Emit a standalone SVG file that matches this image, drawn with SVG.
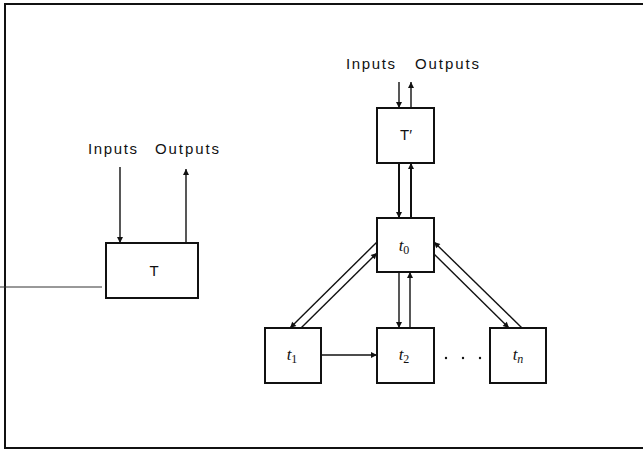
<svg xmlns="http://www.w3.org/2000/svg" width="643" height="451" viewBox="0 0 643 451">
  <style>
    .frame { fill: none; stroke: #111; stroke-width: 2; }
    .box { fill: #fff; stroke: #111; stroke-width: 2; }
    .link { fill: none; stroke: #111; stroke-width: 1.4; }
    .thick { stroke-width: 2; }
    .lbl { font-family: "Liberation Sans", Arial, sans-serif; font-size: 15px; fill: #111; }
    .name { font-family: "Liberation Sans", Arial, sans-serif; font-size: 15px; fill: #111; text-anchor: middle; }
    .sub { font-family: "Liberation Serif", "Times New Roman", serif; font-size: 17px; font-style: italic; fill: #111; text-anchor: middle; }
  </style>
  <defs>
    <marker id="arrow" viewBox="0 0 10 10" refX="10" refY="5" markerWidth="9" markerHeight="6" markerUnits="userSpaceOnUse" orient="auto">
      <path d="M0,0 L10,5 L0,10 Z" fill="#111"/>
    </marker>
  </defs>
  <rect width="643" height="451" fill="#fff"/>

  <!-- outer frame (open on the right) -->
  <path class="frame" d="M643,4 H5 V448 H643"/>
  <line x1="0" y1="287" x2="102" y2="287" stroke="#333" stroke-width="1"/>

  <!-- free-standing labels -->
  <g id="labels">
    <text class="lbl" x="88" y="154" textLength="49" lengthAdjust="spacing">Inputs</text>
    <text class="lbl" x="155" y="154" textLength="64" lengthAdjust="spacing">Outputs</text>
    <text class="lbl" x="346" y="69" textLength="49" lengthAdjust="spacing">Inputs</text>
    <text class="lbl" x="415" y="69" textLength="64" lengthAdjust="spacing">Outputs</text>
  </g>

  <!-- connectors -->
  <g id="connectors">
    <!-- T -->
    <line class="link" x1="120" y1="167" x2="120" y2="243" marker-end="url(#arrow)"/>
    <line class="link" x1="186" y1="243" x2="186" y2="169" marker-end="url(#arrow)"/>
    <!-- T' external -->
    <line class="link" x1="399" y1="82" x2="399" y2="108" marker-end="url(#arrow)"/>
    <line class="link" x1="411" y1="108" x2="411" y2="82" marker-end="url(#arrow)"/>
    <!-- T' <-> t0 -->
    <line class="link thick" x1="399" y1="163" x2="399" y2="218" marker-end="url(#arrow)"/>
    <line class="link thick" x1="411" y1="218" x2="411" y2="163" marker-end="url(#arrow)"/>
    <!-- t0 <-> t1 -->
    <line class="link" x1="377" y1="242" x2="290" y2="328" marker-end="url(#arrow)"/>
    <line class="link" x1="301" y1="328" x2="377" y2="253" marker-end="url(#arrow)"/>
    <!-- t0 <-> t2 -->
    <line class="link" x1="399" y1="272" x2="399" y2="328" marker-end="url(#arrow)"/>
    <line class="link" x1="410" y1="328" x2="410" y2="272" marker-end="url(#arrow)"/>
    <!-- t0 <-> tn -->
    <line class="link" x1="522" y1="328" x2="434" y2="242" marker-end="url(#arrow)"/>
    <line class="link" x1="434" y1="254" x2="509" y2="328" marker-end="url(#arrow)"/>
    <!-- t1 -> t2 -->
    <line class="link" x1="321" y1="355" x2="377" y2="355" marker-end="url(#arrow)"/>
  </g>

  <g id="node-T">
    <rect class="box" x="106" y="243" width="92" height="55"/>
    <text class="name" x="154" y="276">T</text>
  </g>
  <g id="node-Tprime">
    <rect class="box" x="377" y="108" width="57" height="55"/>
    <text class="name" x="406" y="140">T′</text>
  </g>
  <g id="node-t0">
    <rect class="box" x="377" y="218" width="57" height="54"/>
    <text class="sub" x="404" y="251">t<tspan font-size="12" font-style="normal" dy="3">0</tspan></text>
  </g>
  <g id="node-t1">
    <rect class="box" x="265" y="328" width="56" height="55"/>
    <text class="sub" x="292" y="360">t<tspan font-size="12" font-style="normal" dy="3">1</tspan></text>
  </g>
  <g id="node-t2">
    <rect class="box" x="377" y="328" width="57" height="55"/>
    <text class="sub" x="404" y="360">t<tspan font-size="12" font-style="normal" dy="3">2</tspan></text>
  </g>
  <g id="node-tn">
    <rect class="box" x="490" y="328" width="56" height="55"/>
    <text class="sub" x="518" y="360">t<tspan font-size="12" dy="3">n</tspan></text>
  </g>

  <!-- ellipsis between t2 and tn -->
  <g id="ellipsis" fill="#111">
    <circle cx="446" cy="358" r="1.2"/>
    <circle cx="463" cy="358" r="1.2"/>
    <circle cx="480" cy="358" r="1.2"/>
  </g>
</svg>
